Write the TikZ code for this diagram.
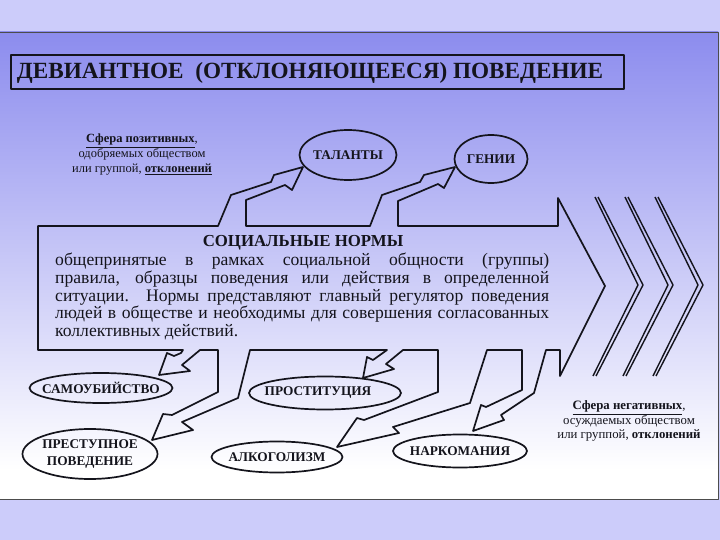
\documentclass[tikz,border=0pt]{standalone}
\usepackage{fontspec}
\setmainfont{Liberation Serif}
\usetikzlibrary{shapes.geometric}
\definecolor{slide}{RGB}{204,204,250}
\definecolor{panel}{RGB}{140,140,238}
\definecolor{ink}{HTML}{14141C}
\begin{document}
\begin{tikzpicture}[x=1pt,y=-1pt,line join=round,
 oval/.style={ellipse,draw=ink,line width=1.7pt,inner sep=0pt},
 every label/.style={font=\bfseries\fontsize{13.3}{16.5}\selectfont,text=ink,align=center,inner sep=0pt},
 note/.style={align=center,text=ink,font=\fontsize{12.5}{15}\selectfont}]
\useasboundingbox (0,0) rectangle (720,540);
\fill[slide] (0,0) rectangle (720,540);
\shade[top color=panel,bottom color=white] (0,32) rectangle (718,470);
\fill[white] (0,470) rectangle (718,499);
\draw[black!70,line width=.8pt] (0,32)--(718,32)--(718,499)--(0,499);
\node[draw=ink,line width=2.6pt,minimum width=613pt,minimum height=34pt,inner sep=0pt] (title) at (317.5,72) {};
\node[font=\bfseries\fontsize{23.2}{25}\selectfont,text=ink] (titletxt) at (310,73) {ДЕВИАНТНОЕ \ (ОТКЛОНЯЮЩЕЕСЯ) ПОВЕДЕНИЕ};
\node[note] (posnote) at (142,155) {\textbf{\underline{Сфера позитивных}},\\ одобряемых обществом\\ или группой, \textbf{\underline{отклонений}}};
\node[note,font=\fontsize{12.8}{13.6}\selectfont] (negnote) at (629,421) {\textbf{\underline{Сфера негативных}},\\ осуждаемых обществом\\ или группой, \textbf{отклонений}};
\node[oval,minimum width=97pt,minimum height=50pt,label=center:ТАЛАНТЫ] (tal) at (348,155) {};
\node[oval,minimum width=73pt,minimum height=48pt,label=center:ГЕНИИ] (gen) at (491,159) {};
\node[oval,minimum width=143pt,minimum height=30pt,label=center:САМОУБИЙСТВО] (sam) at (101,388) {};
\node[oval,minimum width=152pt,minimum height=33pt,label={[xshift=-7pt]center:ПРОСТИТУЦИЯ}] (prost) at (325,393) {};
\node[oval,minimum width=135pt,minimum height=50pt,label={center:ПРЕСТУПНОЕ\\ПОВЕДЕНИЕ}] (prest) at (90,454) {};
\node[oval,minimum width=131pt,minimum height=31pt,label=center:АЛКОГОЛИЗМ] (alk) at (277,457) {};
\node[oval,minimum width=134pt,minimum height=33pt,label=center:НАРКОМАНИЯ] (nark) at (460,451) {};
\draw[ink,line width=1.7pt] (38,350)--(38,226)--(218,226)
 --(231,195)--(271,182)--(274,175)--(303,167)--(292,190)--(285,185)--(246,200)--(246,226)
 --(370,226)--(382,195)--(420,182)--(424,175)--(455,167)--(444,188)--(438,184)--(398,201)--(398,226)
 --(558,226)--(558,198)--(605,286)--(560,376)--(560,350)--(546,350)
 --(534,393)--(501,415)--(504,420)--(473,431)--(481,405)--(486,407)--(522,390)--(522,350)
 --(487,350)--(470,403)--(393,427)--(399,433)--(337,447)--(357,418)--(364,420)--(438,392)--(438,350)
 --(403,350)--(386,364)--(394,369)--(363,378)--(367,357)--(373,360)--(387,350)
 --(250,350)--(238,398)--(182,422)--(193,430)--(152,440)--(163,414)--(172,415)--(218,392)--(218,350)
 --(200,350)--(182,365)--(190,371)--(159,375)--(167,353)--(174,356)--(181,353)--(183,350)--cycle;
\node[font=\bfseries\fontsize{16.8}{18}\selectfont,text=ink] (normhead) at (303,243) {СОЦИАЛЬНЫЕ НОРМЫ};
\node[anchor=north west,text width=494pt,align=justify,inner sep=0pt,text=ink,font=\fontsize{17.6}{17.7}\selectfont] (normtxt) at (55,253) {общепринятые в рамках социальной общности (группы)\linebreak правила, образцы поведения или действия в определенной\linebreak ситуации. Нормы представляют главный регулятор поведения\linebreak людей в обществе и необходимы для совершения согласованных\linebreak коллективных действий.};
\foreach \i in {0,30,60} {\draw[ink,line width=1.4pt] (595+\i,197)--(638+\i,285)--(593+\i,376); \draw[ink,line width=1.4pt] (598+\i,197)--(643+\i,285)--(596+\i,376);}
\end{tikzpicture}
\end{document}
